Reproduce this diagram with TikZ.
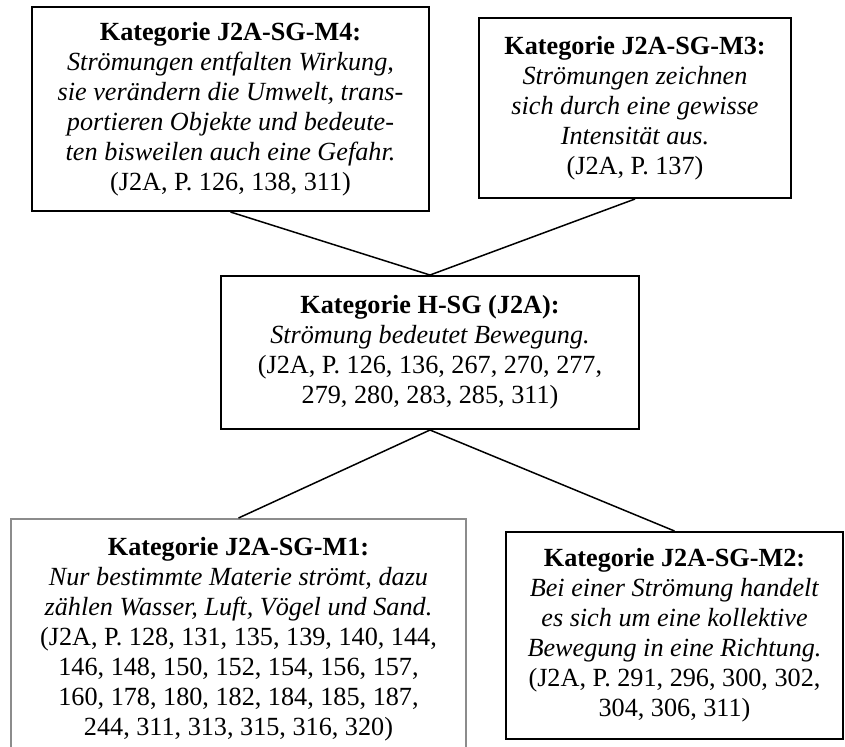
\documentclass[tikz,border=0pt]{standalone}
\usepackage{fontspec}
\setmainfont{Liberation Serif}
\begin{document}
\begin{tikzpicture}[x=0.5pt,y=-0.5pt,
  box/.style={draw, line width=1pt, rectangle, align=center, inner sep=0pt,
    font=\fontsize{13.1}{15}\selectfont},
  link/.style={line width=0.75pt}]
\useasboundingbox (0,0) rectangle (845,746);
\clip (0,0) rectangle (845,746);
\node[box, minimum width=198.5pt, minimum height=102pt] (m4) at (230.5,109)
  {\textbf{Kategorie J2A-SG-M4:}\\
   \textit{Strömungen entfalten Wirkung,}\\
   \textit{sie verändern die Umwelt, trans-}\\
   \textit{portieren Objekte und bedeute-}\\
   \textit{ten bisweilen auch eine Gefahr.}\\
   (J2A, P. 126, 138, 311)};
\node[box, minimum width=156pt, minimum height=90pt] (m3) at (635,108)
  {\textbf{Kategorie J2A-SG-M3:}\\
   \textit{Strömungen zeichnen}\\
   \textit{sich durch eine gewisse}\\
   \textit{Intensität aus.}\\
   (J2A, P. 137)};
\node[box, minimum width=209pt, minimum height=76.5pt] (h) at (430,352.5)
  {\textbf{Kategorie H-SG (J2A):}\\
   \textit{Strömung bedeutet Bewegung.}\\
   (J2A, P. 126, 136, 267, 270, 277,\\
   279, 280, 283, 285, 311)};
\node[box, draw=black!45, minimum width=227.5pt, minimum height=120.5pt] (m1) at (238.5,639.5)
  {\textbf{Kategorie J2A-SG-M1:}\\
   \textit{Nur bestimmte Materie strömt, dazu}\\
   \textit{zählen Wasser, Luft, Vögel und Sand.}\\
   (J2A, P. 128, 131, 135, 139, 140, 144,\\
   146, 148, 150, 152, 154, 156, 157,\\
   160, 178, 180, 182, 184, 185, 187,\\
   244, 311, 313, 315, 316, 320)};
\node[box, minimum width=168.5pt, minimum height=103.5pt] (m2) at (674.5,635.5)
  {\textbf{Kategorie J2A-SG-M2:}\\
   \textit{Bei einer Strömung handelt}\\
   \textit{es sich um eine kollektive}\\
   \textit{Bewegung in eine Richtung.}\\
   (J2A, P. 291, 296, 300, 302,\\
   304, 306, 311)};
\draw[link] (m4.south) -- (h.north);
\draw[link] (m3.south) -- (h.north);
\draw[link] (h.south) -- (m1.north);
\draw[link] (h.south) -- (m2.north);
\end{tikzpicture}
\end{document}
